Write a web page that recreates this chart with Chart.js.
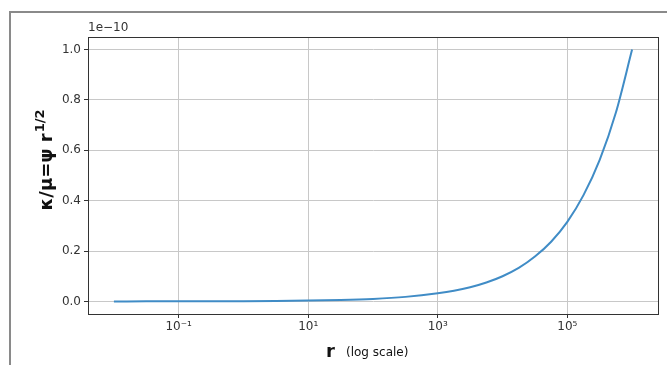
<!DOCTYPE html>
<html>
<head>
<meta charset="utf-8">
<script src="https://cdn.jsdelivr.net/npm/chart.js@4/dist/chart.umd.min.js"></script>
<style>
  html, body { margin: 0; padding: 0; background: #fff; }
  #wrap { width: 667px; height: 365px; position: relative; }
</style>
</head>
<body>
<div id="wrap"><canvas id="myChart" width="667" height="365"></canvas></div>
<script>
// r values (log spaced) and kappa/mu, in units of 1e-10
const rValues = [0.01, 0.0316, 0.1, 0.316, 1, 3.16, 10, 31.6, 100, 316, 1000, 1778, 3162, 5623,
    10000, 17783, 31623, 56234, 100000, 177828, 316228, 562341, 1000000];
const kappaValues = [0.0001, 0.00018, 0.0003, 0.0006, 0.001, 0.0018, 0.0032, 0.0056, 0.01, 0.018,
    0.032, 0.042, 0.056, 0.075, 0.1, 0.133, 0.178, 0.237, 0.316, 0.422, 0.562, 0.75, 1.0];
const xTicks = [0.1, 10, 1000, 100000];
const xTickLabels = ['10\u207B\u00B9', '10\u00B9', '10\u00B3', '10\u2075'];
const yTicks = [0, 0.2, 0.4, 0.6, 0.8, 1.0];
const yOffsetLabel = '1e\u221210';

const points = rValues.map((r, i) => ({ x: r, y: kappaValues[i] }));

// frame, spines and axis titles
const extras = {
    id: 'extras',
    afterDraw(chart) {
        const c = chart.ctx;
        const a = chart.chartArea;
        c.save();
        // outer screenshot frame
        c.strokeStyle = '#8a8a8a';
        c.lineWidth = 2;
        c.beginPath();
        c.moveTo(667, 12);
        c.lineTo(10, 12);
        c.lineTo(10, 365);
        c.stroke();
        // spines
        c.strokeStyle = '#333';
        c.lineWidth = 1;
        c.strokeRect(a.left + 0.5, a.top + 0.5, a.right - a.left, a.bottom - a.top);
        // offset text
        c.fillStyle = '#333';
        c.font = '12px "DejaVu Sans"';
        c.textAlign = 'left';
        c.textBaseline = 'alphabetic';
        c.fillText(yOffsetLabel, a.left, 31);
        // x title
        c.fillStyle = '#111';
        c.font = 'bold 18px "DejaVu Sans"';
        c.fillText('r', 326, 357);
        c.font = '12px "DejaVu Sans"';
        c.fillText('(log scale)', 346, 356);
        // y title
        c.translate(52, 160);
        c.rotate(-Math.PI / 2);
        c.font = 'bold 18px "DejaVu Sans"';
        const main = '\u03BA/\u03BC=\u03C8 r';
        const wMain = c.measureText(main).width;
        c.font = 'bold 13px "DejaVu Sans"';
        const sup = '1/2';
        const wSup = c.measureText(sup).width;
        const start = -(wMain + wSup + 1) / 2;
        c.font = 'bold 18px "DejaVu Sans"';
        c.fillText(main, start, 0);
        c.font = 'bold 13px "DejaVu Sans"';
        c.fillText(sup, start + wMain + 1, -8);
        c.restore();
    }
};

const ctx = document.getElementById('myChart').getContext('2d');
const myChart = new Chart(ctx, {
    type: 'line',
    data: {
        datasets: [{
            data: points,
            borderColor: 'rgb(64, 140, 198)',
            borderWidth: 2,
            pointRadius: 0,
            fill: false,
            cubicInterpolationMode: 'monotone'
        }]
    },
    options: {
        responsive: false,
        animation: false,
        layout: { padding: { left: 0, top: 37, right: 9, bottom: 0 } },
        plugins: { legend: { display: false }, tooltip: { enabled: false } },
        scales: {
            x: {
                type: 'logarithmic',
                min: Math.pow(10, -2.4),
                max: Math.pow(10, 6.4),
                afterBuildTicks: (s) => { s.ticks = xTicks.map(v => ({ value: v })); },
                afterFit: (s) => { s.height = 51; },
                ticks: {
                    callback: (v) => xTickLabels[xTicks.indexOf(v)] || '',
                    color: '#333',
                    font: { family: 'DejaVu Sans', size: 12 },
                    maxRotation: 0,
                    autoSkip: false,
                    padding: 2
                },
                grid: { color: '#c8c8c8', lineWidth: 1, tickColor: '#333', tickLength: 4 },
                border: { color: '#333' }
            },
            y: {
                min: -0.05,
                max: 1.05,
                afterBuildTicks: (s) => { s.ticks = yTicks.map(v => ({ value: v })); },
                afterFit: (s) => { s.width = 88; },
                ticks: {
                    callback: (v) => v.toFixed(1),
                    color: '#333',
                    font: { family: 'DejaVu Sans', size: 12 },
                    padding: 3
                },
                grid: { color: '#c8c8c8', lineWidth: 1, tickColor: '#333', tickLength: 4 },
                border: { color: '#333' }
            }
        }
    },
    plugins: [extras]
});
</script>
</body>
</html>
